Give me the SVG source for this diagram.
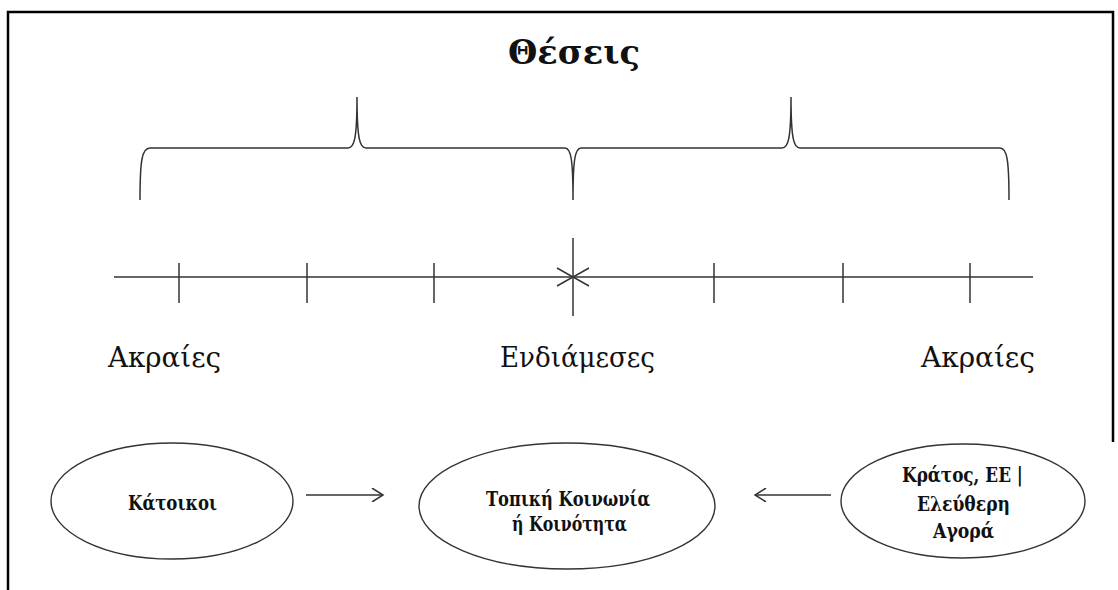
<svg xmlns="http://www.w3.org/2000/svg" width="1118" height="590" viewBox="0 0 1118 590">
<style>
.frame{fill:none;stroke:#000;stroke-width:2.5}
.ln{fill:none;stroke:#333;stroke-width:1.5}
.el{fill:#fff;stroke:#333;stroke-width:1.4}
.lbl{font-family:"DejaVu Serif","Liberation Serif",serif;fill:#111}
.big{font-size:28px}
.node{font-size:21px;font-weight:bold}
</style>
<defs>
<marker id="open" markerWidth="14" markerHeight="14" refX="12" refY="7" orient="auto" markerUnits="userSpaceOnUse">
<path d="M1,0 L12,7 L1,14" fill="none" stroke="#333" stroke-width="1.5"/>
</marker>
</defs>
<rect width="1118" height="590" fill="#fff"/>
<g id="frame">
<path class="frame" d="M8,590 L8,12 L1113,12 L1113,442"/>
</g>
<g id="title">
<text class="lbl" x="508" y="64" font-size="33" font-weight="bold" textLength="132" lengthAdjust="spacingAndGlyphs">Θέσεις</text>
</g>
<g id="braces">
<path class="ln" d="M140,200 C140,160 142,148 150,148 L348,148 C354,148 357,140 357,97 C357,140 360,148 366,148 L565,148 C571,148 573,160 573,200 C573,160 575,148 581,148 L782,148 C788,148 791,140 791,97 C791,140 794,148 800,148 L1000,148 C1007,148 1009,160 1009,200"/>
</g>
<g id="scale">
<line class="ln" x1="114" y1="277" x2="1033" y2="277"/>
<line class="ln" x1="179" y1="263" x2="179" y2="303"/>
<line class="ln" x1="307" y1="263" x2="307" y2="303"/>
<line class="ln" x1="434" y1="263" x2="434" y2="303"/>
<line class="ln" x1="714" y1="263" x2="714" y2="303"/>
<line class="ln" x1="843" y1="263" x2="843" y2="303"/>
<line class="ln" x1="970" y1="263" x2="970" y2="303"/>
<line class="ln" x1="573" y1="238" x2="573" y2="316"/>
<path class="ln" d="M557,268 L573,277 L557,286 M589,268 L573,277 L589,286"/>
</g>
<g id="scale-labels">
<text class="lbl big" x="108" y="367" textLength="113" lengthAdjust="spacingAndGlyphs">Ακραίες</text>
<text class="lbl big" x="500" y="367" textLength="155" lengthAdjust="spacingAndGlyphs">Ενδιάμεσες</text>
<text class="lbl big" x="921" y="367" textLength="114" lengthAdjust="spacingAndGlyphs">Ακραίες</text>
</g>
<g id="node-katoikoi">
<ellipse class="el" cx="172" cy="501" rx="121" ry="58"/>
<text class="lbl node" x="128" y="510" textLength="89" lengthAdjust="spacingAndGlyphs">Κάτοικοι</text>
</g>
<g id="node-topiki">
<ellipse class="el" cx="567" cy="506" rx="148" ry="63"/>
<text class="lbl node" x="486" y="506" textLength="164" lengthAdjust="spacingAndGlyphs">Τοπική Κοινωνία</text>
<text class="lbl node" x="512" y="531" textLength="115" lengthAdjust="spacingAndGlyphs">ή Κοινότητα</text>
</g>
<g id="node-kratos">
<ellipse class="el" cx="963" cy="501" rx="122" ry="57"/>
<text class="lbl node" x="902" y="482" textLength="121" lengthAdjust="spacingAndGlyphs">Κράτος, ΕΕ |</text>
<text class="lbl node" x="917" y="511" textLength="93" lengthAdjust="spacingAndGlyphs">Ελεύθερη</text>
<text class="lbl node" x="933" y="538" textLength="61" lengthAdjust="spacingAndGlyphs">Αγορά</text>
</g>
<g id="connectors">
<line class="ln" x1="306" y1="495" x2="383" y2="495" marker-end="url(#open)"/>
<line class="ln" x1="831" y1="495" x2="755" y2="495" marker-end="url(#open)"/>
</g>
</svg>
